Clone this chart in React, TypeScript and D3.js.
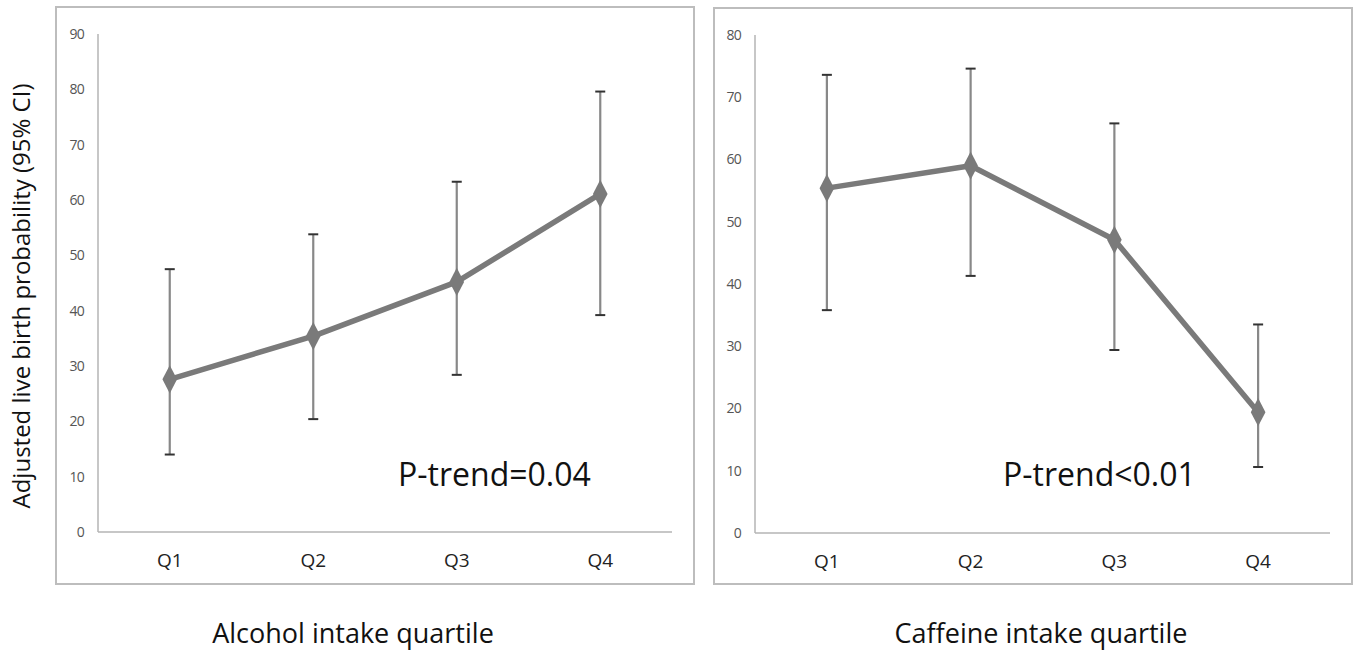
import React from 'react';
import * as d3 from 'd3';

const quartiles = ['Q1', 'Q2', 'Q3', 'Q4'];

const alcoholMean = [27.6, 35.4, 45.2, 61.1];
const alcoholUpper = [47.5, 53.8, 63.3, 79.6];
const alcoholLower = [14.0, 20.4, 28.4, 39.2];

const caffeineMean = [55.4, 59.0, 47.1, 19.4];
const caffeineUpper = [73.6, 74.6, 65.8, 33.5];
const caffeineLower = [35.8, 41.3, 29.4, 10.6];

const alcoholTicks = [0, 10, 20, 30, 40, 50, 60, 70, 80, 90];
const caffeineTicks = [0, 10, 20, 30, 40, 50, 60, 70, 80];

const FONT = "'Open Sans', 'DejaVu Sans', sans-serif";

interface PanelProps {
  box: [number, number, number, number];
  axisX: [number, number];
  axisY: [number, number];
  yMax: number;
  ticks: number[];
  mean: number[];
  upper: number[];
  lower: number[];
  note: string;
  noteX: number;
  title: string;
  titleX: number;
}

const Panel: React.FC<PanelProps> = ({ box, axisX, axisY, yMax, ticks, mean, upper, lower, note, noteX, title, titleX }) => {
  const x = d3.scaleBand().domain(quartiles).range(axisX);
  const y = d3.scaleLinear().domain([0, yMax]).range(axisY);
  const cx = (q: string) => (x(q) || 0) + x.bandwidth() / 2;

  const line = d3
    .line<number>()
    .x((_, i) => cx(quartiles[i]))
    .y((d) => y(d));

  const diamond = d3.symbol().type(d3.symbolDiamond).size(230)();

  return (
    <g>
      <rect x={box[0]} y={box[1]} width={box[2]} height={box[3]} fill="#fff" stroke="#bdbdbd" strokeWidth={2} />
      <line x1={axisX[0]} x2={axisX[0]} y1={y(0)} y2={y(yMax)} stroke="#b5b5b5" strokeWidth={1.5} />
      <line x1={axisX[0]} x2={axisX[1]} y1={y(0)} y2={y(0)} stroke="#b5b5b5" strokeWidth={1.5} />
      {ticks.map((t) => (
        <text key={t} x={axisX[0] - 14} y={y(t)} dy="0.35em" textAnchor="end" fontSize={14} fill="#555" fontFamily={FONT} letterSpacing={-0.8}>
          {t}
        </text>
      ))}
      {quartiles.map((q) => (
        <text key={q} x={cx(q)} y={y(0) + 35} textAnchor="middle" fontSize={19} fill="#222" fontFamily={FONT}>
          {q}
        </text>
      ))}
      {quartiles.map((q, i) => (
        <g key={q}>
          <line x1={cx(q)} x2={cx(q)} y1={y(upper[i])} y2={y(lower[i])} stroke="#888" strokeWidth={2.2} />
          <line x1={cx(q) - 5} x2={cx(q) + 5} y1={y(upper[i])} y2={y(upper[i])} stroke="#333" strokeWidth={2} />
          <line x1={cx(q) - 5} x2={cx(q) + 5} y1={y(lower[i])} y2={y(lower[i])} stroke="#333" strokeWidth={2} />
        </g>
      ))}
      <path d={line(mean) || ''} fill="none" stroke="#7a7a7a" strokeWidth={5.5} strokeLinejoin="round" />
      {quartiles.map((q, i) => (
        <path key={q} d={diamond || ''} transform={`translate(${cx(q)},${y(mean[i])}) scale(0.9,1)`} fill="#7a7a7a" />
      ))}
      <text x={noteX} y={486} fontSize={32} fill="#111" fontFamily={FONT}>
        {note}
      </text>
      <text x={titleX} y={643} textAnchor="middle" fontSize={27} fill="#111" fontFamily={FONT}>
        {title}
      </text>
    </g>
  );
};

export default function App() {
  return (
    <svg width={1356} height={652} style={{ position: 'absolute', left: 0, top: 0, background: '#fff' }}>
      <text
        transform="translate(30,296) rotate(-90)"
        textAnchor="middle"
        fontSize={24}
        fill="#111"
        fontFamily={FONT}
      >
        Adjusted live birth probability (95% CI)
      </text>
      <Panel
        box={[56, 7, 638, 577]}
        axisX={[98, 672]}
        axisY={[532, 34]}
        yMax={90}
        ticks={alcoholTicks}
        mean={alcoholMean}
        upper={alcoholUpper}
        lower={alcoholLower}
        note="P-trend=0.04"
        noteX={398}
        title="Alcohol intake quartile"
        titleX={353}
      />
      <Panel
        box={[714, 8, 638, 576]}
        axisX={[755, 1330]}
        axisY={[533, 35]}
        yMax={80}
        ticks={caffeineTicks}
        mean={caffeineMean}
        upper={caffeineUpper}
        lower={caffeineLower}
        note="P-trend<0.01"
        noteX={1003}
        title="Caffeine intake quartile"
        titleX={1041}
      />
    </svg>
  );
}
